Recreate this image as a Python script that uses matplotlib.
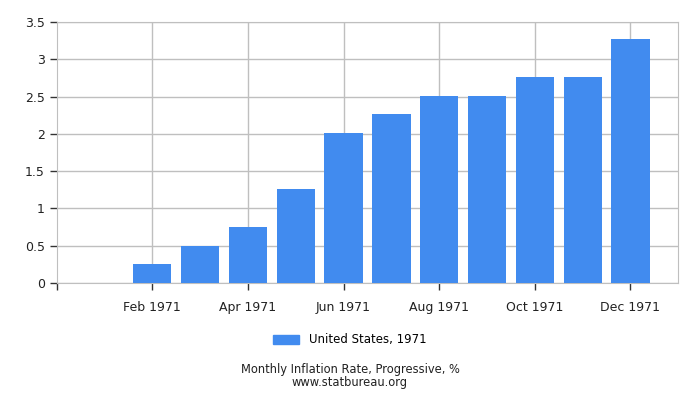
import matplotlib
matplotlib.use('Agg')
import matplotlib.pyplot as plt
from matplotlib.patches import Patch

# 数据
months = ['Jan 1971', 'Feb 1971', 'Mar 1971', 'Apr 1971', 'May 1971', 'Jun 1971',
          'Jul 1971', 'Aug 1971', 'Sep 1971', 'Oct 1971', 'Nov 1971', 'Dec 1971']
values = [0.0, 0.25, 0.50, 0.75, 1.26, 2.01, 2.26, 2.51, 2.51, 2.76, 2.76, 3.27]
series_name = 'United States, 1971'
yticks = [0, 0.5, 1, 1.5, 2, 2.5, 3, 3.5]
ytick_labels = ['0', '0.5', '1', '1.5', '2', '2.5', '3', '3.5']

bar_color = '#418bef'
grid_color = '#bfbfbf'

fig = plt.figure(figsize=(7, 4), dpi=100)
ax = fig.add_axes([0.081, 0.2925, 0.888, 0.6525])

x = list(range(len(months)))
ax.bar(x, values, width=0.8, color=bar_color, zorder=3)

ax.set_xlim(-1, 12)
ax.set_ylim(0, 3.5)

# x轴只显示隔月标签
ax.set_xticks(x[1::2])
ax.set_xticklabels(months[1::2], fontsize=9, color='#222222')
ax.set_xticks([-1], minor=True)
ax.set_yticks(yticks)
ax.set_yticklabels(ytick_labels, fontsize=9, color='#222222')

ax.grid(True, color=grid_color, linewidth=1, zorder=0)
for s in ax.spines.values():
    s.set_color(grid_color)
ax.tick_params(axis='both', which='both', color='#333333', length=5, width=1)
ax.tick_params(axis='x', pad=8)

fig.legend(handles=[Patch(color=bar_color, label=series_name)], loc='center',
           bbox_to_anchor=(0.5, 0.15), frameon=False, fontsize=8.5,
           handlelength=2.2, handleheight=0.8)

fig.text(0.5, 0.076, 'Monthly Inflation Rate, Progressive, %', ha='center', va='center',
         fontsize=8.3, color='#222222')
fig.text(0.5, 0.043, 'www.statbureau.org', ha='center', va='center', fontsize=8.3, color='#222222')

fig.savefig('out.png', dpi=100)
